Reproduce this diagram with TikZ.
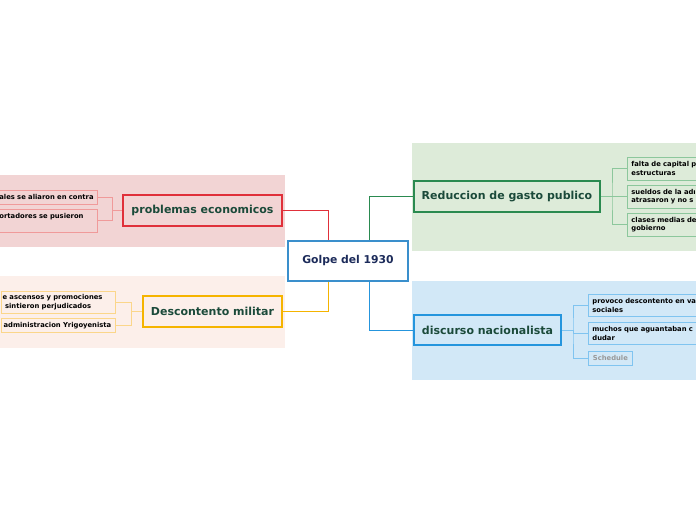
\documentclass[tikz,border=0pt]{standalone}
\usepackage{fontspec}
\setmainfont{DejaVu Sans}
\definecolor{redbg}{HTML}{F2D4D4}
\definecolor{orbg}{HTML}{FCEFEA}
\definecolor{grbg}{HTML}{DDEBD9}
\definecolor{blbg}{HTML}{D2E8F7}
\definecolor{redc}{HTML}{E0303A}
\definecolor{redl}{HTML}{F09A9A}
\definecolor{orc}{HTML}{F5B400}
\definecolor{orl}{HTML}{FBD68A}
\definecolor{grc}{HTML}{2A8A50}
\definecolor{grl}{HTML}{8CC79C}
\definecolor{blc}{HTML}{2595DD}
\definecolor{bll}{HTML}{80C4F0}
\definecolor{cenc}{HTML}{3A8FCC}
\definecolor{maintext}{HTML}{1B4A3A}
\definecolor{centext}{HTML}{1C2B5A}
\begin{document}
\begin{tikzpicture}[x=1pt,y=-1pt,
  mainbox/.style={draw,line width=1.8pt,font=\bfseries\fontsize{11}{13}\selectfont,text=maintext,inner sep=0pt},
  subbox/.style={draw,line width=0.8pt,font=\bfseries\fontsize{6.8}{8.4}\selectfont,text=black,inner ysep=1.5pt,inner xsep=4pt},
  conn/.style={line width=0.9pt},
  subconn/.style={line width=0.7pt}]
\useasboundingbox (0,0) rectangle (696,520);
\clip (0,0) rectangle (696,520);
% backgrounds
\fill[redbg] (0,175) rectangle (285,247);
\fill[orbg] (0,276) rectangle (285,348);
\fill[grbg] (412,143) rectangle (696,251);
\fill[blbg] (412,281) rectangle (696,380);
% central
\node[draw=cenc,fill=white,line width=1.8pt,minimum width=120pt,minimum height=40pt,inner sep=0pt,
  font=\bfseries\fontsize{10.8}{12}\selectfont,text=centext] (c) at (348,261) {Golpe del 1930};
% main topics
\node[mainbox,draw=redc,fill=redbg,minimum width=159pt,minimum height=31pt] (pe) at (202.5,210.5) {problemas economicos};
\node[mainbox,draw=orc,fill=orbg,minimum width=139pt,minimum height=31pt] (dm) at (212.5,311.5) {Descontento militar};
\node[mainbox,draw=grc,fill=grbg,minimum width=186pt,minimum height=31pt] (rg) at (507,196.5) {Reduccion de gasto publico};
\node[mainbox,draw=blc,fill=blbg,minimum width=147pt,minimum height=30pt] (dn) at (487.5,330) {discurso nacionalista};
% central connectors
\coordinate (cpe) at ([xshift=-20pt]c.north);
\coordinate (cdm) at ([xshift=-20pt]c.south);
\coordinate (crg) at ([xshift=21pt]c.north);
\coordinate (cdn) at ([xshift=21pt]c.south);
\draw[conn,redc] (cpe) |- (pe.east);
\draw[conn,orc] (cdm) |- (dm.east);
\draw[conn,grc] (crg) |- (rg.west);
\draw[conn,blc] (cdn) |- (dn.west);
% problemas economicos children
\node[subbox,draw=redl,fill=redbg,anchor=east,text width=104pt,align=right,minimum height=14pt] (pe1) at (98,197) {ales se aliaron en contra};
\node[subbox,draw=redl,fill=redbg,anchor=east,text width=104pt,align=right,minimum height=23pt] (pe2) at (98,220.5) {ortadores se pusieron\rule{10pt}{0pt}\\~};
\coordinate (pej) at (112,210.5);
\draw[subconn,redl] (pe.west) -- (pej);
\draw[subconn,redl] (pej) |- (pe1.east);
\draw[subconn,redl] (pej) |- (pe2.east);
% descontento militar children
\node[subbox,draw=orl,fill=orbg,anchor=east,text width=112pt,align=left,inner xsep=1pt,minimum height=22pt] (dm1) at (116,302) {e ascensos y promociones\\\hspace{2.5pt}sintieron perjudicados};
\node[subbox,draw=orl,fill=orbg,anchor=east,text width=112pt,align=left,inner xsep=1pt,minimum height=14pt] (dm2) at (116,325.5) {\hspace{1pt}administracion Yrigoyenista};
\coordinate (dmj) at (131,311.5);
\draw[subconn,orl] (dm.west) -- (dmj);
\draw[subconn,orl] (dmj) |- (dm1.east);
\draw[subconn,orl] (dmj) |- (dm2.east);
% reduccion children
\node[subbox,draw=grl,fill=grbg,anchor=west,text width=150pt,align=left,minimum height=23pt] (rg1) at (627,168.5) {falta de capital p\\estructuras};
\node[subbox,draw=grl,fill=grbg,anchor=west,text width=150pt,align=left,minimum height=23pt] (rg2) at (627,196.5) {sueldos de la adı\\atrasaron y no s};
\node[subbox,draw=grl,fill=grbg,anchor=west,text width=150pt,align=left,minimum height=23pt] (rg3) at (627,224.5) {clases medias de\\gobierno};
\coordinate (rgj) at (612,196.5);
\draw[subconn,grl] (rg.east) -- (rg2.west);
\draw[subconn,grl] (rg1.west) -| (rgj) |- (rg3.west);
% discurso children
\node[subbox,draw=bll,fill=blbg,anchor=west,text width=150pt,align=left,minimum height=22pt] (dn1) at (588,305.5) {provoco descontento en va\\sociales};
\node[subbox,draw=bll,fill=blbg,anchor=west,text=gray!80,minimum width=44pt,minimum height=14pt,inner xsep=3pt] (dn3) at (588,358) {Schedule};
\node[subbox,draw=bll,fill=blbg,anchor=west,text width=150pt,align=left,minimum height=22pt] (dn2) at (588,333.5) {muchos que aguantaban c\\dudar};
\coordinate (dnj) at (573,330);
\draw[subconn,bll] (dn.east) -- (dnj);
\draw[subconn,bll] (dn1.west) -| (dnj) |- (dn3.west);
\draw[subconn,bll] (dnj) |- (dn2.west);
\end{tikzpicture}
\end{document}
